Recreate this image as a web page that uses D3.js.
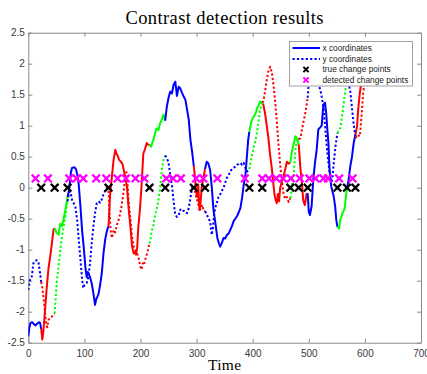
<!DOCTYPE html>
<html>
<head>
<meta charset="utf-8">
<script src="https://cdn.jsdelivr.net/npm/d3@7"></script>
<style>
  body { margin: 0; background: #fff; }
  svg { display: block; }
</style>
</head>
<body>
<svg id="chart" width="427" height="374"></svg>
<script>
// Trajectory samples: [time, value]
const xCoordinates = [
  [0,-2.40],[2,-2.25],[4,-2.18],[7,-2.17],[10,-2.20],[13,-2.22],[16,-2.19],[19,-2.17],[21,-2.18],
  [23,-2.28],[25,-2.45],[27,-2.30],[30,-1.95],[33,-1.60],[36,-1.30],[39,-1.11],[42,-0.90],[45,-0.68],
  [47,-0.65],[50,-0.72],[54,-0.76],[57,-0.58],[60,-0.62],[63,-0.50],[66,-0.36],[68,-0.25],
  [70,-0.15],[73,-0.02],[76,0.25],[78,0.32],[82,0.33],[85,0.30],[88,0.18],[90,0.04],[93,-0.31],[96,-0.70],
  [99,-0.98],[102,-1.30],[104,-1.44],[106,-1.36],[108,-1.40],[110,-1.44],[113,-1.54],[116,-1.70],[119,-1.89],
  [121,-1.80],[123,-1.76],[125,-1.72],[128,-1.57],[131,-1.38],[134,-1.06],[137,-0.84],[140,-0.70],
  [143,-0.62],[146,-0.09],[149,0.18],[152,0.45],[155,0.61],[157,0.55],[159,0.52],[162,0.45],[165,0.42],
  [168,0.38],[171,0.25],[173,0.16],[176,0.00],[179,-0.35],[182,-0.63],[185,-0.95],[188,-1.06],[190,-1.03],
  [192,-1.08],[194,-0.98],[196,-0.65],[199,-0.35],[202,0.05],[205,0.55],[208,0.62],[211,0.72],[214,0.69],
  [216,0.70],[219,0.66],[221,0.72],[224,0.80],[226,0.88],[229,0.96],[232,0.93],[235,1.04],[238,1.10],[241,1.18],
  [244,1.08],[247,1.31],[250,1.45],[253,1.55],[256,1.52],[259,1.66],[262,1.71],[265,1.48],[268,1.63],
  [271,1.60],[274,1.53],[277,1.47],[280,1.42],[283,1.26],[286,1.10],[289,0.77],[292,0.58],
  [295,0.35],[297,0.18],[299,-0.05],[301,-0.15],[303,0.05],[305,-0.36],[307,-0.25],[309,0.00],[312,0.15],
  [315,0.30],[318,0.42],[321,0.39],[324,0.29],[327,0.02],[330,-0.35],[333,-0.54],[337,-0.81],[340,-0.90],
  [342,-0.95],[345,-0.89],[348,-0.81],[351,-0.82],[354,-0.76],[357,-0.74],[360,-0.68],[363,-0.62],
  [366,-0.54],[369,-0.50],[372,-0.46],[375,-0.40],[378,-0.33],[381,-0.17],[384,0.05],[387,0.20],
  [390,0.55],[392,0.78],
  [394,0.90],[397,1.05],[400,1.12],[404,1.18],[406,1.22],[408,1.29],[411,1.33],[413,1.39],
  [417,1.36],[419,1.34],[422,1.20],[424,1.07],[428,0.80],[431,0.53],[434,0.32],[437,0.05],[439,-0.12],
  [441,-0.20],[443,-0.25],[445,-0.10],[447,-0.22],[449,0.00],[452,0.10],[455,0.18],[458,0.30],[461,0.42],[464,0.39],
  [467,0.40],[470,0.59],[473,0.70],[476,0.83],[479,0.80],
  [482,0.70],[485,0.32],[488,0.05],[490,-0.20],[493,-0.28],[496,-0.10],
  [498,-0.09],[500,-0.39],[502,-0.44],[505,-0.30],[508,0.13],[511,0.40],[514,0.61],[517,0.94],[520,0.97],
  [523,1.00],[526,1.34],[529,1.37],[531,1.20],[533,0.95],[535,0.72],[537,0.29],[540,0.02],[544,-0.12],
  [547,-0.30],[549,-0.52],
  [551,-0.63],[554,-0.66],[556,-0.52],[558,-0.48],[560,-0.41],[562,-0.38],[564,-0.33],[566,-0.15],
  [568,-0.02],[571,0.13],[574,0.35],[577,0.50],[580,0.72],
  [583,0.85],[586,0.99],[588,1.26],[591,1.53],[594,1.74],[597,1.85],[600,1.95]
];

const yCoordinates = [
  [0,-1.65],[3,-1.49],[6,-1.45],[9,-1.22],[12,-1.18],[15,-1.17],[18,-1.19],[21,-1.38],
  [23,-1.52],[25,-1.62],[27,-1.76],[30,-2.03],[32,-2.22],[34,-2.25],[36,-2.13],[39,-2.10],[42,-2.08],[44,-2.05],
  [47,-2.03],[49,-1.75],[51,-1.49],[54,-1.27],[57,-1.00],[60,-0.79],[63,-0.63],[66,-0.47],[68,-0.30],
  [70,-0.22],[72,-0.12],[74,-0.06],[76,-0.10],[78,-0.20],[81,-0.25],[84,-0.31],[87,-0.52],[90,-0.84],
  [93,-1.17],[96,-1.49],[98,-1.62],[100,-1.57],[102,-1.55],[104,-1.54],[107,-1.44],[110,-1.22],[113,-0.90],
  [116,-0.63],[119,-0.41],[122,-0.25],[125,-0.22],[128,-0.24],[131,-0.19],[134,-0.11],[137,-0.05],[140,0.00],
  [143,-0.05],[145,-0.45],[147,-0.70],[149,-0.81],[152,-0.68],[155,-0.72],[158,-0.60],[161,-0.52],[164,-0.41],
  [167,-0.25],[170,-0.05],[173,0.20],[175,0.25],[177,0.05],[179,-0.25],[182,-0.50],[185,-0.79],[188,-0.95],
  [191,-0.98],[194,-1.06],[197,-1.15],[200,-1.28],[202,-1.32],[204,-1.22],[206,-1.25],[209,-1.14],[212,-1.05],[214,-0.98],
  [216,-0.90],[218,-0.82],[220,-0.70],[223,-0.60],[226,-0.44],[229,-0.33],[232,-0.20],[235,0.00],[238,0.29],[241,0.45],
  [244,0.52],[247,0.48],[250,0.40],[253,0.21],[256,0.05],[259,-0.22],[262,-0.44],[265,-0.47],[268,-0.45],
  [271,-0.35],[274,-0.38],[277,-0.37],[280,-0.40],[283,-0.41],[286,-0.33],[289,-0.17],[292,0.00],
  [295,0.02],[298,-0.10],[301,-0.20],[304,-0.30],[307,-0.35],[310,-0.28],[313,-0.38],
  [315,-0.38],[318,-0.42],[321,-0.50],[324,-0.54],[327,-0.76],[329,-0.65],[331,-0.45],[333,-0.33],[336,-0.25],
  [339,-0.15],[342,-0.11],[345,-0.05],[348,0.00],[351,0.08],[354,0.16],[357,0.20],[360,0.26],[363,0.30],
  [366,0.32],[369,0.34],[372,0.37],[375,0.38],[378,0.40],[381,0.37],[384,0.40],[387,0.32],[390,0.26],
  [394,0.30],[397,0.45],[401,0.62],[404,0.72],[407,0.86],[410,1.04],[413,1.25],
  [417,1.37],[419,1.40],[422,1.55],[425,1.74],[428,1.88],[431,1.95],[434,1.87],[437,1.66],[440,1.39],
  [443,1.07],[446,0.69],[449,0.37],[452,0.10],[455,-0.10],[458,-0.18],[461,-0.15],[464,-0.23],
  [467,-0.17],[469,-0.05],[471,0.10],[473,0.21],[476,0.59],[479,0.80],
  [482,0.78],[485,0.80],[488,0.95],[491,1.08],[494,1.22],[496,1.32],
  [498,1.45],[500,1.70],[503,1.95],[507,2.15],[511,2.20],[515,1.95],[519,1.62],[522,1.52],[526,1.31],
  [529,0.99],[532,0.67],[535,0.40],[538,0.18],[540,0.05],[542,0.15],[545,0.45],[548,0.70],
  [551,0.88],[553,0.91],[556,0.96],[560,1.20],[564,1.50],
  [568,1.77],[571,1.68],[574,1.55],[577,1.28],[580,1.02],
  [583,0.83],[586,0.80],[589,0.84],[591,0.83],[594,1.15],[597,1.53],[600,1.74]
];

const trueChangePoints = [23, 47, 70, 143, 216, 244, 295, 315, 394, 417, 467, 482, 498, 551, 568, 583];
const detectedChangePoints = [13, 35, 73, 86, 98, 121, 139, 159, 174, 191, 207, 246, 258, 272, 299, 312,
  337, 386, 417, 429, 442, 454, 468, 484, 501, 512, 526, 534, 554, 578];
const trueLevel = 0;
const detectedLevel = 0.15;

// colour of each stretch between consecutive true change points
const segmentColors = ["#0000ff","#ff0000","#00ff00","#0000ff","#ff0000","#00ff00","#0000ff","#ff0000",
  "#0000ff","#00ff00","#ff0000","#00ff00","#ff0000","#0000ff","#00ff00","#0000ff","#ff0000"];
const timeEnd = 600;

const xTicks = [0, 100, 200, 300, 400, 500, 600, 700];
const yTicks = [-2.5, -2, -1.5, -1, -0.5, 0, 0.5, 1, 1.5, 2, 2.5];
const legendLabels = ["x coordinates", "y coordinates", "true change points", "detected change points"];
const titleText = "Contrast detection results";
const xLabelText = "Time";

const svg = d3.select("#chart");
const plot = { left: 28.3, right: 421, top: 32.7, bottom: 342.7 };

const x = d3.scaleLinear().domain([0, 700]).range([plot.left, plot.right]);
const y = d3.scaleLinear().domain([-2.5, 2.5]).range([plot.bottom, plot.top]);

svg.append("defs").append("clipPath").attr("id", "plot-clip")
  .append("rect")
  .attr("x", plot.left).attr("y", plot.top)
  .attr("width", plot.right - plot.left).attr("height", plot.bottom - plot.top);

const axisColor = "#8a8a8a";
const labelColor = "#3a3a3a";
const tickFont = "'Liberation Sans', Arial, Helvetica, sans-serif";

function styleAxis(g) {
  g.selectAll(".domain").attr("stroke", axisColor).attr("stroke-width", 1);
  g.selectAll(".tick line").attr("stroke", axisColor).attr("stroke-width", 1);
  g.selectAll(".tick text").attr("fill", labelColor)
    .style("font-family", tickFont).style("font-size", "10px");
}

const fmt = d => String(d);

svg.append("g").attr("transform", `translate(0,${plot.bottom})`)
  .call(d3.axisBottom(x).tickValues(xTicks).tickFormat(fmt).tickSizeInner(-4).tickSizeOuter(0).tickPadding(7))
  .call(styleAxis);
svg.append("g").attr("transform", `translate(0,${plot.top})`)
  .call(d3.axisTop(x).tickValues(xTicks).tickFormat("").tickSizeInner(-4).tickSizeOuter(0))
  .call(styleAxis);
svg.append("g").attr("transform", `translate(${plot.left},0)`)
  .call(d3.axisLeft(y).tickValues(yTicks).tickFormat(fmt).tickSizeInner(-4).tickSizeOuter(0).tickPadding(3.5))
  .call(styleAxis);
svg.append("g").attr("transform", `translate(${plot.right},0)`)
  .call(d3.axisRight(y).tickValues(yTicks).tickFormat("").tickSizeInner(-4).tickSizeOuter(0))
  .call(styleAxis);

// trajectory lines, coloured per segment
const line = d3.line().x(d => x(d[0])).y(d => y(d[1]));
const bounds = [0, ...trueChangePoints, timeEnd];
const lines = svg.append("g").attr("clip-path", "url(#plot-clip)");

function drawSeries(series, dashed) {
  segmentColors.forEach((color, i) => {
    const a = bounds[i], b = bounds[i + 1];
    const pts = series.filter(d => d[0] >= a && d[0] <= b);
    lines.append("path")
      .attr("d", line(pts))
      .attr("fill", "none")
      .attr("stroke", color)
      .attr("stroke-width", 2)
      .attr("stroke-linejoin", "round")
      .attr("stroke-dasharray", dashed ? "2.2,2.2" : null);
  });
}
drawSeries(xCoordinates, false);
drawSeries(yCoordinates, true);

// cross markers
function cross(s) {
  return `M${-s},${-s}L${s},${s}M${-s},${s}L${s},${-s}`;
}
const marks = svg.append("g");
marks.selectAll(".true-cp").data(trueChangePoints).join("path")
  .attr("class", "true-cp")
  .attr("transform", d => `translate(${x(d)},${y(trueLevel)})`)
  .attr("d", cross(3.8))
  .attr("stroke", "#000").attr("stroke-width", 2.3).attr("fill", "none");
marks.selectAll(".det-cp").data(detectedChangePoints).join("path")
  .attr("class", "det-cp")
  .attr("transform", d => `translate(${x(d)},${y(detectedLevel)})`)
  .attr("d", cross(3.8))
  .attr("stroke", "#ff00ff").attr("stroke-width", 2.3).attr("fill", "none");

// legend
const lg = svg.append("g").attr("transform", "translate(289.5,41.5)");
lg.append("rect").attr("width", 123).attr("height", 44.5)
  .attr("fill", "#fff").attr("stroke", "#8a8a8a").attr("stroke-width", 0.8);
const rowY = [6.5, 17.5, 28, 38.5];
lg.append("line").attr("x1", 3).attr("x2", 30.5).attr("y1", rowY[0]).attr("y2", rowY[0])
  .attr("stroke", "#0000ff").attr("stroke-width", 2);
lg.append("line").attr("x1", 3).attr("x2", 30.5).attr("y1", rowY[1]).attr("y2", rowY[1])
  .attr("stroke", "#0000ff").attr("stroke-width", 2).attr("stroke-dasharray", "2.2,2.2");
lg.append("path").attr("transform", `translate(16.5,${rowY[2]})`).attr("d", cross(2.6))
  .attr("stroke", "#000").attr("stroke-width", 2).attr("fill", "none");
lg.append("path").attr("transform", `translate(16.5,${rowY[3]})`).attr("d", cross(2.6))
  .attr("stroke", "#ff00ff").attr("stroke-width", 2).attr("fill", "none");
lg.selectAll("text.lab").data(legendLabels).join("text")
  .attr("class", "lab")
  .attr("x", 33).attr("y", (d, i) => rowY[i]).attr("dy", "0.35em")
  .attr("fill", "#1a1a1a")
  .style("font-family", tickFont).style("font-size", "8.3px")
  .text(d => d);

// title and axis label
svg.append("text").attr("x", (plot.left + plot.right) / 2).attr("y", 24)
  .attr("text-anchor", "middle").attr("fill", "#000")
  .style("font-family", "'Liberation Serif', 'Times New Roman', serif").style("font-size", "18.5px")
  .style("letter-spacing", "0.4px")
  .text(titleText);
svg.append("text").attr("x", (plot.left + plot.right) / 2).attr("y", 370)
  .attr("text-anchor", "middle").attr("fill", "#000")
  .style("font-family", "'Liberation Serif', 'Times New Roman', serif").style("font-size", "15.5px")
  .style("letter-spacing", "0.3px")
  .text(xLabelText);
</script>
</body>
</html>
